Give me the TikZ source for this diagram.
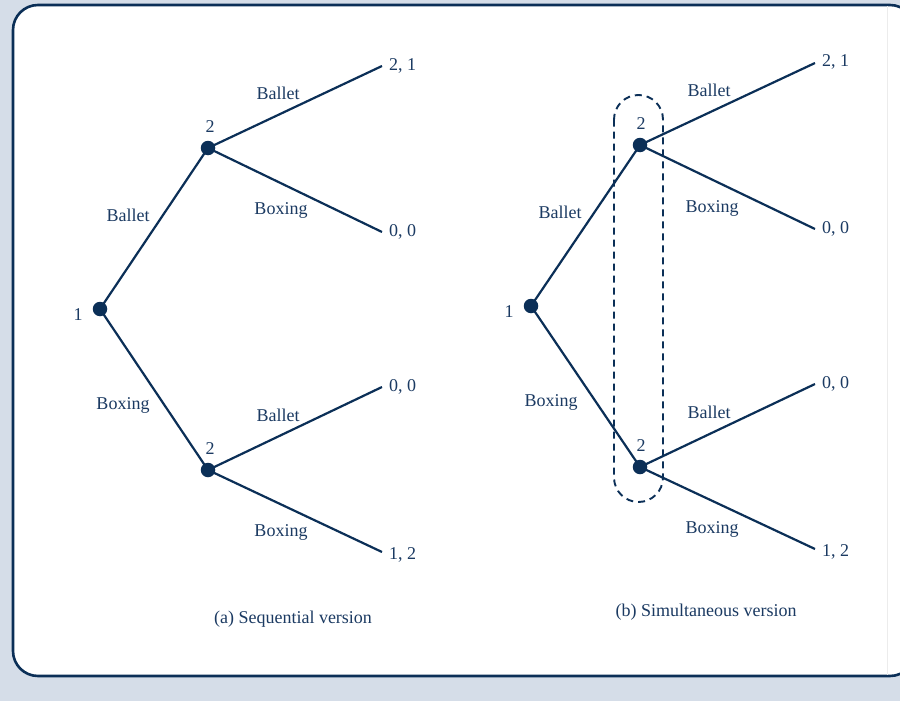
\documentclass[tikz,border=0pt]{standalone}
\usepackage{fontspec}
\setmainfont{Liberation Serif}
\definecolor{navy}{HTML}{0B2F57}
\definecolor{txt}{HTML}{1B3A62}
\definecolor{bg}{HTML}{D5DDE8}
\begin{document}
\begin{tikzpicture}[x=1pt,y=-1pt,
  dot/.style={circle,fill=navy,inner sep=0pt,minimum size=14.5pt},
  edge/.style={draw=navy,line width=2.2pt},
  lbl/.style={text=txt,font=\fontsize{18}{21}\selectfont,inner sep=0pt},
  pay/.style={lbl,anchor=west},
  infoset/.style={draw=navy,line width=1.9pt,dash pattern=on 7pt off 5pt,rounded corners=24.5pt}]
\useasboundingbox (0,0) rectangle (900,701);
\fill[bg] (0,0) rectangle (900,701);
\begin{scope}
\clip (0,0) rectangle (900,701);
\filldraw[fill=white,draw=navy,line width=2.6pt,rounded corners=25pt] (13,5) rectangle (915,676);
\draw[gray!15,line width=0.8pt] (887,6.5) -- (887,674.5);
\end{scope}
% ---------- (a) sequential ----------
\node[dot] (a1) at (100,309) {};
\node[dot] (a2) at (208,148) {};
\node[dot] (a3) at (208,470) {};
\coordinate (a4) at (382,66);
\coordinate (a5) at (382,232);
\coordinate (a6) at (382,387);
\coordinate (a7) at (382,552);
\draw[edge] (a1.center) -- (a2.center);
\draw[edge] (a1.center) -- (a3.center);
\draw[edge] (a2.center) -- (a4);
\draw[edge] (a2.center) -- (a5);
\draw[edge] (a3.center) -- (a6);
\draw[edge] (a3.center) -- (a7);
\node[lbl] (a1l) at (78,315) {1};
\node[lbl] (a2l) at (210,127) {2};
\node[lbl] (a3l) at (210,449) {2};
\node[pay] (a4l) at (389,66) {2, 1};
\node[pay] (a5l) at (389,232) {0, 0};
\node[pay] (a6l) at (389,387) {0, 0};
\node[pay] (a7l) at (389,555) {1, 2};
\node[lbl] (ae1) at (128,215) {Ballet};
\node[lbl] (ae2) at (123,405) {Boxing};
\node[lbl] (ae3) at (278,93) {Ballet};
\node[lbl] (ae4) at (281,210) {Boxing};
\node[lbl] (ae5) at (278,415) {Ballet};
\node[lbl] (ae6) at (281,532) {Boxing};
\node[lbl] (acap) at (293,619) {(a) Sequential version};
% ---------- (b) simultaneous ----------
\draw[infoset] (614,95) rectangle (663,502);
\node[dot] (b1) at (531,306) {};
\node[dot] (b2) at (640,145) {};
\node[dot] (b3) at (640,467) {};
\coordinate (b4) at (815,63);
\coordinate (b5) at (815,229);
\coordinate (b6) at (815,384);
\coordinate (b7) at (815,549);
\draw[edge] (b1.center) -- (b2.center);
\draw[edge] (b1.center) -- (b3.center);
\draw[edge] (b2.center) -- (b4);
\draw[edge] (b2.center) -- (b5);
\draw[edge] (b3.center) -- (b6);
\draw[edge] (b3.center) -- (b7);
\node[lbl] (b1l) at (509,312) {1};
\node[lbl] (b2l) at (641,124) {2};
\node[lbl] (b3l) at (641,446) {2};
\node[pay] (b4l) at (822,62) {2, 1};
\node[pay] (b5l) at (822,229) {0, 0};
\node[pay] (b6l) at (822,384) {0, 0};
\node[pay] (b7l) at (822,552) {1, 2};
\node[lbl] (be1) at (560,212) {Ballet};
\node[lbl] (be2) at (551,402) {Boxing};
\node[lbl] (be3) at (709,90) {Ballet};
\node[lbl] (be4) at (712,208) {Boxing};
\node[lbl] (be5) at (709,412) {Ballet};
\node[lbl] (be6) at (712,529) {Boxing};
\node[lbl] (bcap) at (706,612) {(b) Simultaneous version};
\end{tikzpicture}
\end{document}
